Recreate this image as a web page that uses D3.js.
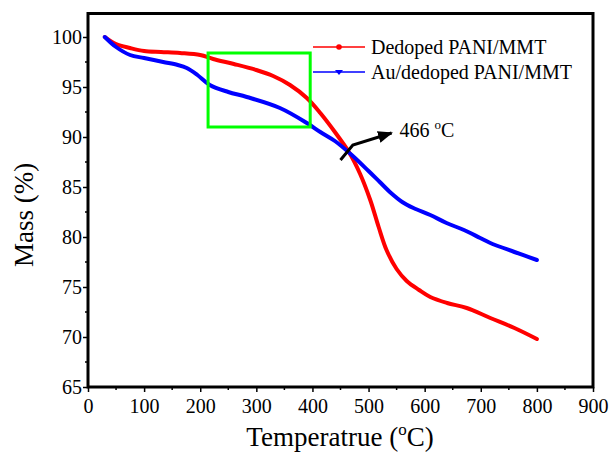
<!DOCTYPE html>
<html>
<head>
<meta charset="utf-8">
<script src="https://cdn.jsdelivr.net/npm/d3@7"></script>
<style>
  body { margin: 0; background: #fff; }
  text { font-family: "Liberation Serif", "Times New Roman", serif; }
</style>
</head>
<body>
<svg id="tga"></svg>
<script>
// temperature (C) / mass (%)
var tempRed = [30, 50, 75, 100, 130, 164, 200, 223, 260, 300, 330, 360, 390, 414, 440, 466, 485, 503, 518, 532, 550, 568, 590, 610, 640, 675, 717, 760, 800];
var massRed = [100, 99.3, 98.9, 98.6, 98.5, 98.4, 98.2, 97.8, 97.3, 96.7, 96.1, 95.2, 93.9, 92.4, 90.5, 88.4, 86.3, 83.7, 81.0, 78.7, 76.8, 75.6, 74.7, 74.0, 73.4, 72.9, 71.9, 70.9, 69.8];
var tempBlue = [30, 50, 75, 100, 134, 160, 176, 195, 217, 250, 283, 342, 390, 414, 440, 470, 500, 520, 540, 560, 580, 610, 639, 670, 699, 717, 760, 800];
var massBlue = [100, 99.0, 98.2, 97.9, 97.5, 97.2, 96.9, 96.2, 95.2, 94.5, 94.0, 92.9, 91.4, 90.5, 89.6, 88.2, 86.6, 85.5, 84.4, 83.5, 82.9, 82.2, 81.4, 80.7, 79.9, 79.4, 78.5, 77.7];
var seriesNames = ["Dedoped PANI/MMT", "Au/dedoped PANI/MMT"];
var xTicks = [0, 100, 200, 300, 400, 500, 600, 700, 800, 900];
var yTicks = [65, 70, 75, 80, 85, 90, 95, 100];
var boxT = [214, 396], boxM = [91.0, 98.4];
var arrowT = [450, 472, 541], arrowM = [87.7, 89.2, 90.4];

var W = 614, H = 455;
var pl = 88, pr = 593, pt = 13.5, pb = 387;

var svg = d3.select("#tga").attr("width", W).attr("height", H);

var x = d3.scaleLinear().domain([0, 900]).range([pl, pr]);
var y = d3.scaleLinear().domain([65, 102.35]).range([pb, pt]);

// x axis
var xAxis = svg.append("g").attr("transform", "translate(0," + pb + ")")
  .call(d3.axisBottom(x).tickValues(xTicks).tickSize(5).tickSizeOuter(0).tickPadding(7));
xAxis.select(".domain").remove();
xAxis.selectAll("line").attr("stroke-width", 1.5);
xAxis.selectAll("text").attr("font-size", 20).attr("fill", "#000");
xAxis.selectAll(".minor").data(d3.range(50, 900, 100)).enter().append("line")
  .attr("x1", function(d) { return x(d); }).attr("x2", function(d) { return x(d); })
  .attr("y1", 0).attr("y2", 3).attr("stroke", "#000").attr("stroke-width", 1.5);

// y axis
var yAxis = svg.append("g").attr("transform", "translate(" + pl + ",0)")
  .call(d3.axisLeft(y).tickValues(yTicks).tickSize(5).tickSizeOuter(0).tickPadding(1));
yAxis.select(".domain").remove();
yAxis.selectAll("line").attr("stroke-width", 1.5);
yAxis.selectAll("text").attr("font-size", 20).attr("fill", "#000");
yAxis.selectAll(".minor").data(d3.range(67.5, 102, 5)).enter().append("line")
  .attr("y1", function(d) { return y(d); }).attr("y2", function(d) { return y(d); })
  .attr("x1", 0).attr("x2", -3).attr("stroke", "#000").attr("stroke-width", 1.5);

// frame
svg.append("rect")
  .attr("x", pl).attr("y", pt)
  .attr("width", pr - pl).attr("height", pb - pt)
  .attr("fill", "none").attr("stroke", "#000").attr("stroke-width", 3);

// axis titles
var xt = svg.append("text").attr("x", 340).attr("y", 446)
  .attr("text-anchor", "middle").attr("font-size", 27);
xt.append("tspan").text("Temperatrue (");
xt.append("tspan").attr("font-size", 17).attr("dy", -11).text("o");
xt.append("tspan").attr("dy", 11).text("C)");

svg.append("text").attr("transform", "translate(33,215) rotate(-90)")
  .attr("text-anchor", "middle").attr("font-size", 27).text("Mass (%)");

// curves
var line = d3.line().curve(d3.curveCatmullRom.alpha(0.5))
  .x(function(d) { return x(d[0]); })
  .y(function(d) { return y(d[1]); });

var redData = d3.zip(tempRed, massRed);
var blueData = d3.zip(tempBlue, massBlue);

svg.append("path").datum(redData).attr("d", line)
  .attr("fill", "none").attr("stroke", "#ff0000").attr("stroke-width", 4).attr("stroke-linecap", "round");
svg.append("path").datum(blueData).attr("d", line)
  .attr("fill", "none").attr("stroke", "#0000ff").attr("stroke-width", 4).attr("stroke-linecap", "round");

// green box
svg.append("rect")
  .attr("x", x(boxT[0])).attr("y", y(boxM[1]))
  .attr("width", x(boxT[1]) - x(boxT[0])).attr("height", y(boxM[0]) - y(boxM[1]))
  .attr("fill", "none").attr("stroke", "#00ff00").attr("stroke-width", 3);

// arrow annotation
svg.append("defs").append("marker")
  .attr("id", "head").attr("viewBox", "0 0 10 10").attr("refX", 9).attr("refY", 5)
  .attr("markerWidth", 5).attr("markerHeight", 5).attr("orient", "auto")
  .append("path").attr("d", "M0,1 L10,5 L0,9 Z").attr("fill", "#000");

svg.append("path").datum(d3.zip(arrowT, arrowM))
  .attr("d", d3.line().x(function(d) { return x(d[0]); }).y(function(d) { return y(d[1]); }))
  .attr("fill", "none").attr("stroke", "#000").attr("stroke-width", 3)
  .attr("marker-end", "url(#head)");

var lab = svg.append("text").attr("x", x(555)).attr("y", 137).attr("font-size", 20);
lab.append("tspan").text("466 ");
lab.append("tspan").attr("font-size", 13).attr("dy", -8).text("o");
lab.append("tspan").attr("dy", 8).text("C");

// legend
var legColors = ["#ff0000", "#0000ff"];
var leg = svg.append("g");
seriesNames.forEach(function(name, i) {
  var ly = 47 + i * 25;
  leg.append("line").attr("x1", 313).attr("x2", 365).attr("y1", ly).attr("y2", ly)
    .attr("stroke", legColors[i]).attr("stroke-width", 1.5);
  if (i == 0) {
    leg.append("circle").attr("cx", 339).attr("cy", ly).attr("r", 2.8).attr("fill", legColors[i]);
  } else {
    leg.append("path").attr("d", "M335," + (ly - 2) + " L343," + (ly - 2) + " L339," + (ly + 3) + " Z")
      .attr("fill", legColors[i]);
  }
  leg.append("text").attr("x", 371).attr("y", ly + 7).attr("font-size", 20).text(name);
});
</script>
</body>
</html>
